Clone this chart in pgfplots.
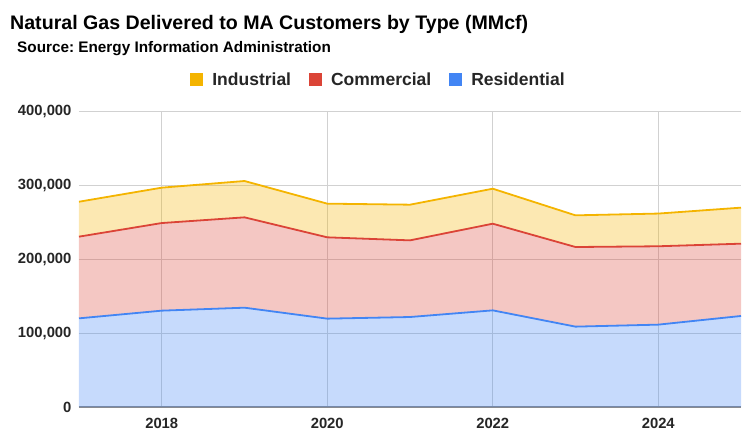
\documentclass[border=0pt]{standalone}
\usepackage{pgfplots}
\pgfplotsset{compat=1.18}
\usepackage{pgfplotstable}
\usepackage{fontspec}
\setmainfont{Liberation Sans}
\frenchspacing

\definecolor{gblue}{HTML}{4285F4}
\definecolor{gred}{HTML}{DB4437}
\definecolor{gyellow}{HTML}{F4B400}

% MMcf by customer type
\pgfplotstableread{
year res    com    ind
2017 119800 110400 47200
2018 130200 118400 47800
2019 134200 122100 49100
2020 119400 109900 45500
2021 121600 103600 48200
2022 130600 117100 47300
2023 108600 107600 42800
2024 111300 105900 44200
2025 123000  97700 48700
}\gasdata

\pgfplotsset{
  gasaxis/.style={
    scale only axis, width=662pt, height=296pt,
    at={(0pt,0pt)}, anchor=south west,
    xmin=2017, xmax=2025, ymin=0, ymax=400000,
    stack plots=y,
  },
}

\begin{document}
\begin{tikzpicture}
  \path[use as bounding box] (-79pt,-33pt) rectangle (671pt,407pt);

  \begin{axis}[gasaxis
    ,xtick={2018,2020,2022,2024}
    ,ytick={0,100000,200000,300000,400000}
    ,scaled y ticks=false
    ,xticklabel style={/pgf/number format/fixed, /pgf/number format/1000 sep={}, yshift=-8pt}
    ,yticklabel style={/pgf/number format/fixed, /pgf/number format/1000 sep={,}, xshift=-4pt}
    ,/pgf/number format/assume math mode=true
    ,ticklabel style={font=\bfseries\fontsize{14.8}{17}\selectfont, text=black!85}
    ,tick style={draw=none}
    ,grid=major
    ,major grid style={draw=black!18, line width=0.9pt}
    ,axis line style={draw=none}
    ,legend style={at={(0.4509,1.1064)}, anchor=center, draw=none,
        font=\bfseries\fontsize{17.5}{20}\selectfont, text=black!85,
        nodes={inner sep=0pt},
        /tikz/every odd column/.style={column sep=9pt},
        /tikz/every even column/.style={column sep=18pt}}
    ,legend columns=3
    ,legend image code/.code={\fill[#1] (0pt,-6.5pt) rectangle (13pt,6.5pt);}
  ]
    \addlegendimage{fill=gyellow, draw=none}
    \addlegendentry{Industrial}
    \addlegendimage{fill=gred, draw=none}
    \addlegendentry{Commercial}
    \addlegendimage{fill=gblue, draw=none}
    \addlegendentry{Residential}

    \addplot[draw=none, fill=gblue, fill opacity=0.3, forget plot]
      table[x=year, y=res] {\gasdata} \closedcycle;
    \addplot[draw=none, fill=gred, fill opacity=0.3, forget plot]
      table[x=year, y=com] {\gasdata} \closedcycle;
    \addplot[draw=none, fill=gyellow, fill opacity=0.3, forget plot]
      table[x=year, y=ind] {\gasdata} \closedcycle;

    \draw[black!45, line width=1.3pt] (rel axis cs:0,0) -- (rel axis cs:1,0);
  \end{axis}

  % second pass for the outlines on top of the fills
  \begin{axis}[gasaxis, hide axis]
    \addplot[gblue, line width=1.8pt] table[x=year, y=res] {\gasdata};
    \addplot[gred, line width=1.8pt] table[x=year, y=com] {\gasdata};
    \addplot[gyellow, line width=1.8pt] table[x=year, y=ind] {\gasdata};
  \end{axis}

  \node[anchor=base west, inner sep=0pt, font=\bfseries\fontsize{19.6}{23}\selectfont]
    at (-69pt,377pt) {Natural Gas Delivered to MA Customers by Type (MMcf)};
  \node[anchor=base west, inner sep=0pt, font=\bfseries\fontsize{15.3}{18}\selectfont]
    at (-62pt,354pt) {Source: Energy Information Administration};
\end{tikzpicture}
\end{document}
